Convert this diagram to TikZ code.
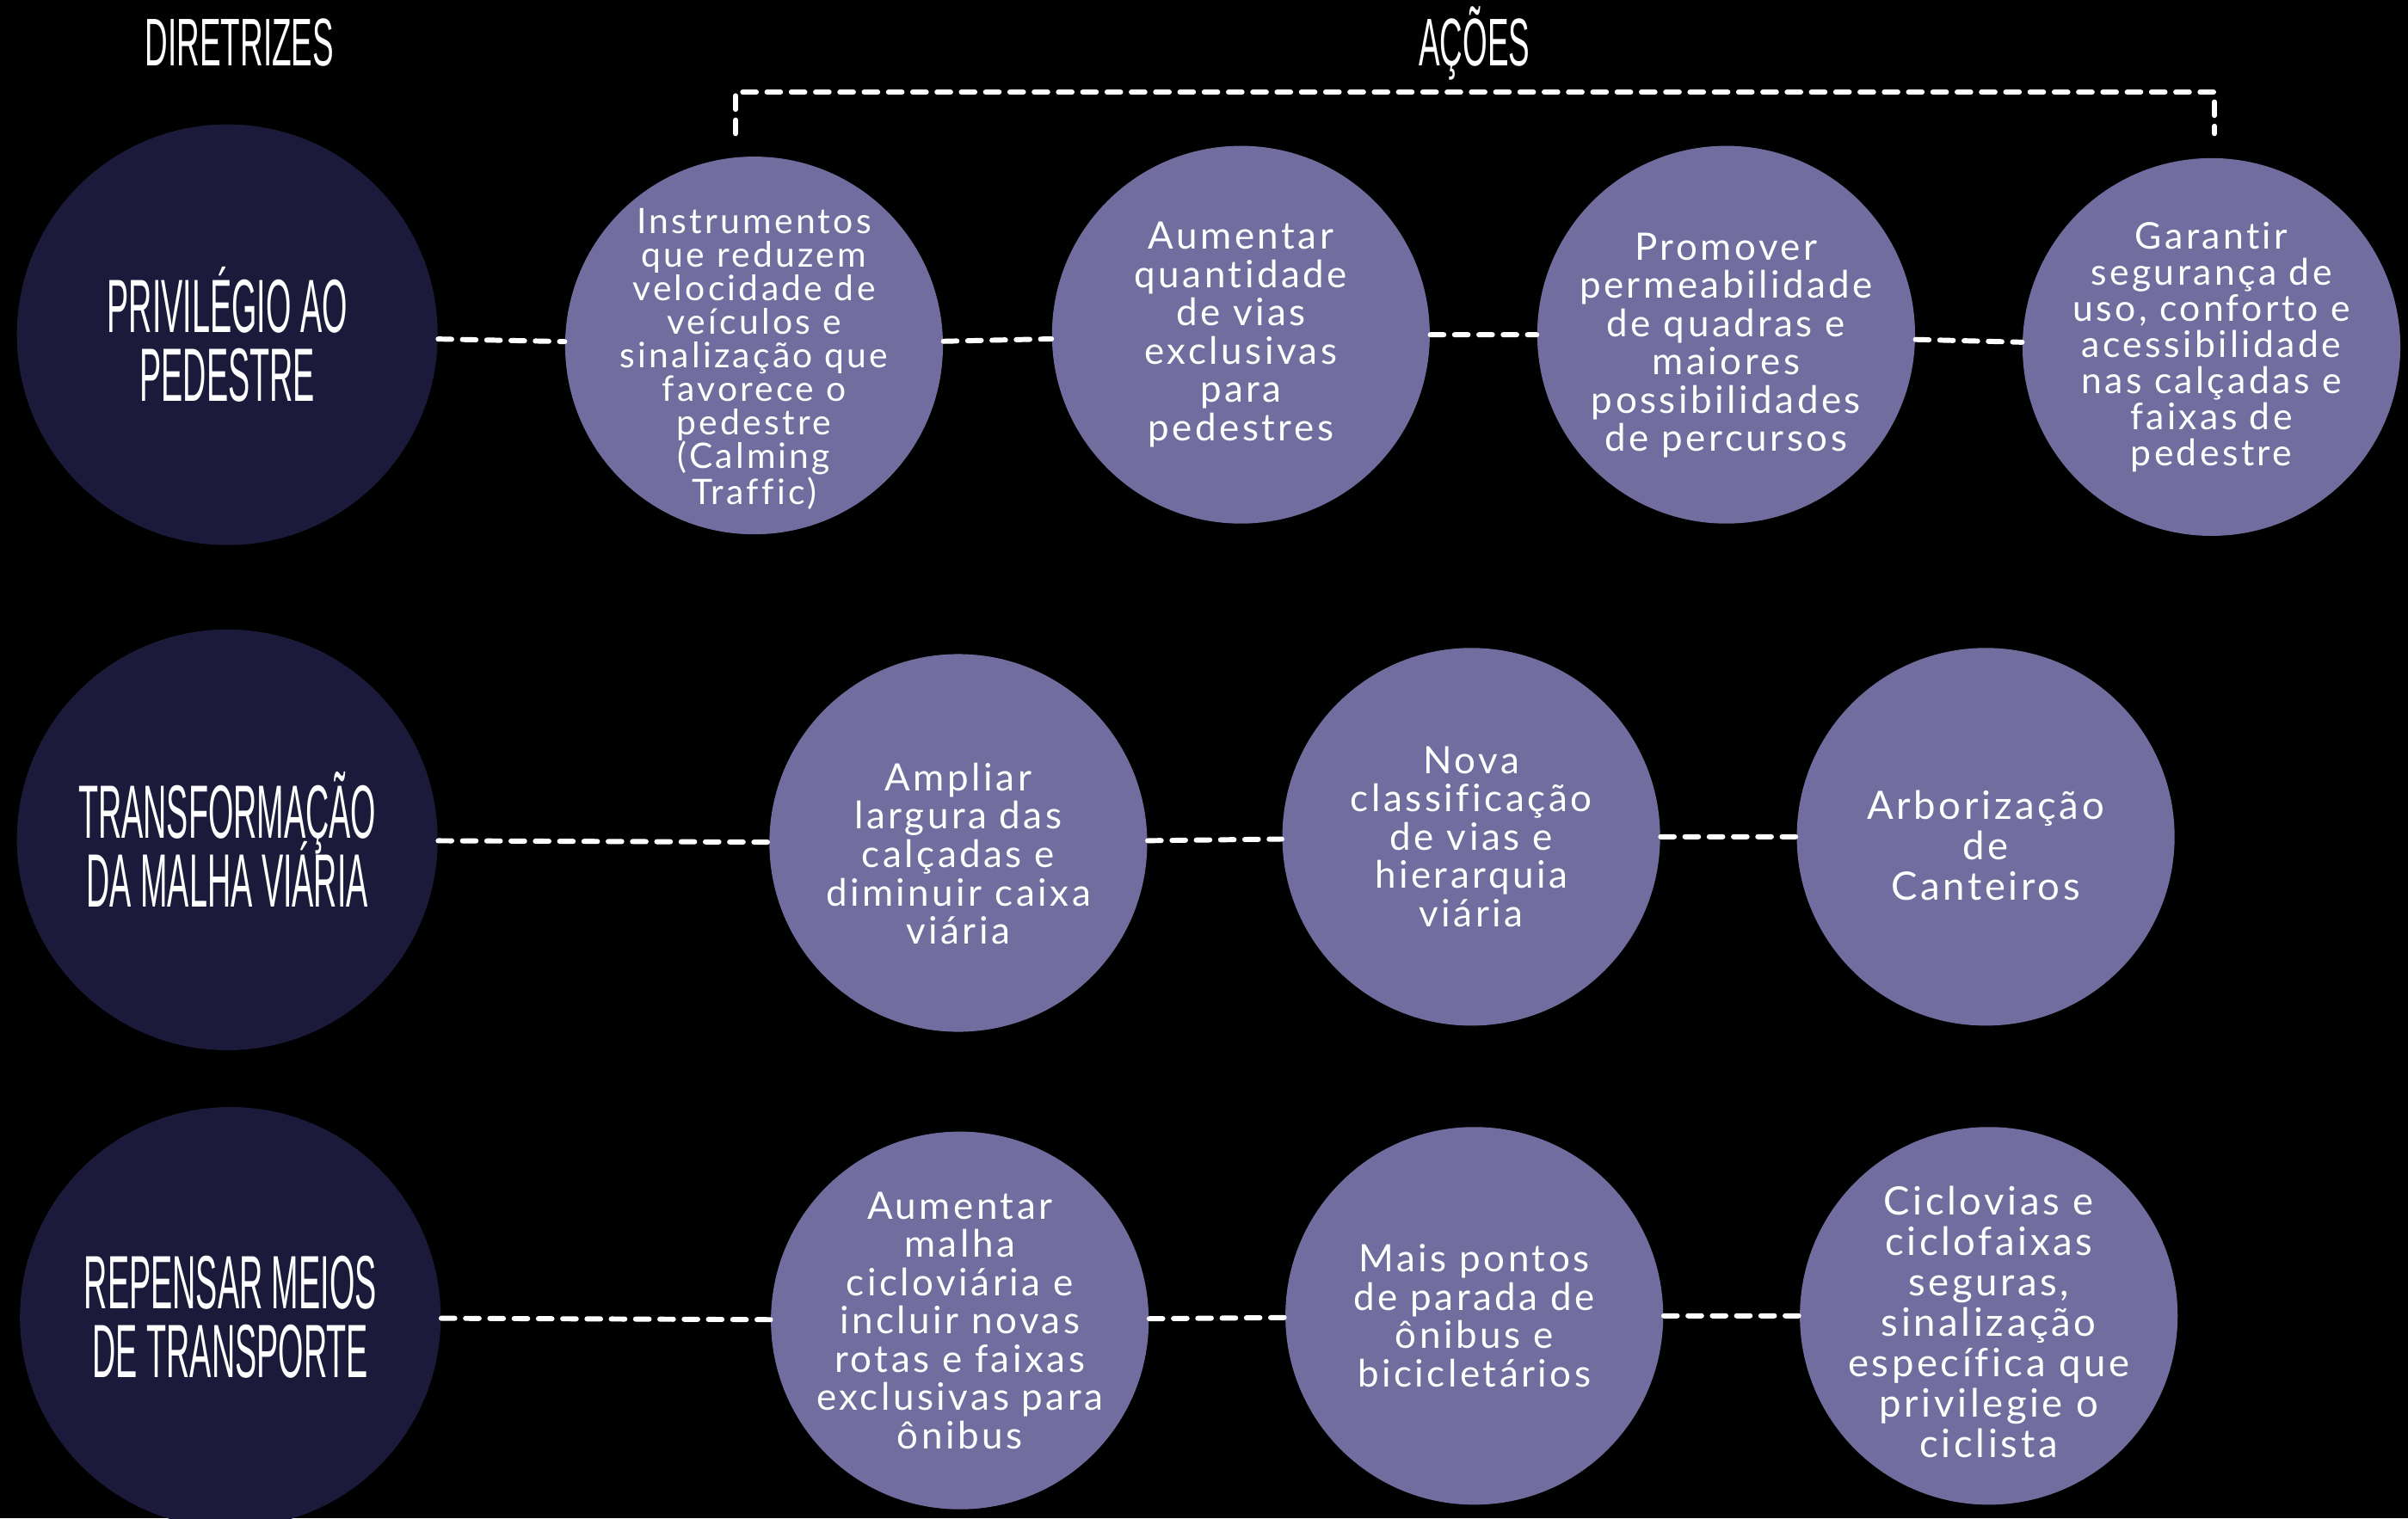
\documentclass[tikz,border=0pt]{standalone}
\usepackage{fontspec}
\setmainfont{Lato}[LetterSpace=8, Ligatures=NoCommon]
\newfontfamily\condfont[FakeStretch=0.43]{Liberation Sans}
\newfontfamily\titlefont[FakeStretch=0.47]{Liberation Sans}
\newcommand\juntas{\lineskiplimit-20pt\relax}
\newcommand\desce[1]{\rule{0pt}{#1}}
\usepackage{tikz}
\usetikzlibrary{positioning, shapes}
\definecolor{noite}{HTML}{1B1A3A}
\definecolor{lilas}{HTML}{716E9F}

\begin{document}
\begin{tikzpicture}[x=0.2mm, y=-0.2mm,
	diretriz/.style={circle, fill=noite, minimum size=54.8mm, inner sep=0pt, text=white, align=center, font=\condfont\fontsize{28}{25.5}\selectfont\juntas},
	acao/.style={circle, fill=lilas, minimum size=49.2mm, inner sep=-4mm, text=white, align=center, font=\fontsize{14}{14.2}\selectfont},
	titulo/.style={text=white, font=\titlefont\fontsize{25}{25}\selectfont},
	link/.style={white, line width=1.9pt, line cap=round, dash pattern=on 5pt off 4pt}]
\fill[black] (0,0) rectangle (1568,989);
\useasboundingbox (0,0) rectangle (1568,989);
\node[titulo](tdir) at (156,28) {DIRETRIZES};
\node[titulo](tacoes) at (960,28) {AÇÕES};
\node[diretriz](d1) at (148,218) {PRIVILÉGIO AO\\PEDESTRE};
\node[diretriz](d2) at (148,547) {TRANSFORMAÇÃO\\DA MALHA VIÁRIA};
\node[diretriz](d3) at (150,858) {REPENSAR MEIOS\\DE TRANSPORTE};
\node[acao, font=\fontsize{13}{12.4}\selectfont](a1) at (491,225) {\desce{19.5pt}Instrumentos\\que reduzem\\velocidade de\\veículos e\\sinalização que\\favorece o\\pedestre\\(Calming\\Traffic)};
\node[acao](a2) at (808,218) {Aumentar\\quantidade\\de vias\\exclusivas\\para\\pedestres};
\node[acao](a3) at (1124,218) {\desce{18pt}Promover\\permeabilidade\\de quadras e\\maiores\\possibilidades\\de percursos};
\node[acao, font=\fontsize{13.6}{13.4}\selectfont](a4) at (1440,226) {Garantir\\segurança de\\uso, conforto e\\acessibilidade\\nas calçadas e\\faixas de\\pedestre};
\node[acao](b1) at (624,549) {\desce{18.3pt}Ampliar\\largura das\\calçadas e\\diminuir caixa\\viária};
\node[acao](b2) at (958,545) {Nova\\classificação\\de vias e\\hierarquia\\viária};
\node[acao, font=\fontsize{14.5}{15}\selectfont](b3) at (1293,545) {\desce{17.3pt}Arborização\\de\\Canteiros};
\node[acao](c1) at (625,860) {Aumentar\\malha\\cicloviária e\\incluir novas\\rotas e faixas\\exclusivas para\\ônibus};
\node[acao](c2) at (960,857) {Mais pontos\\de parada de\\ônibus e\\bicicletários};
\node[acao, font=\fontsize{14.5}{15}\selectfont](c3) at (1295,857) {\desce{15pt}Ciclovias e\\ciclofaixas\\seguras,\\sinalização\\específica que\\privilegie o\\ciclista};
\coordinate (bl) at (479,87);
\coordinate (br) at (1442,87);
\draw[link] (d1) -- (a1) (a1) -- (a2) (a2) -- (a3) (a3) -- (a4)
	(d2) -- (b1) (b1) -- (b2) (b2) -- (b3)
	(d3) -- (c1) (c1) -- (c2) (c2) -- (c3);
\draw[link] (bl) -- (bl |- 0,60) -| (br);
\end{tikzpicture}
\end{document}
